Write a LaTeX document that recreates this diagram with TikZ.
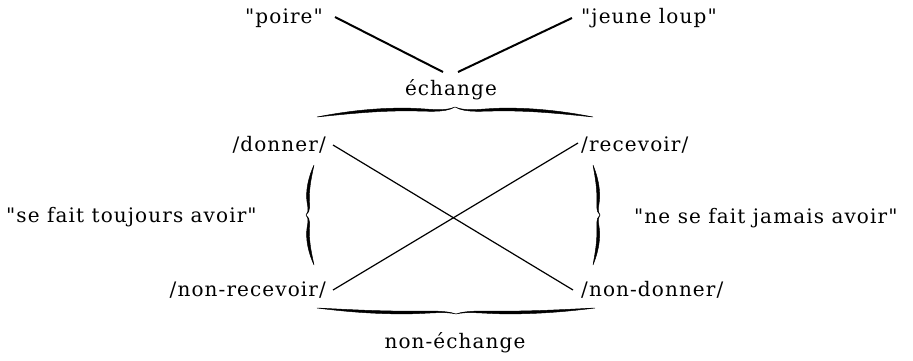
\documentclass[tikz,border=0pt]{standalone}
\usepackage{fontspec}
\setmainfont{DejaVu Serif}[Ligatures=TeXOff, LetterSpace=5.5]
\newcommand\halfbrace[2]{%
  \filldraw[line width=0.45pt]
    (0,0) .. controls (0.12*#1,0.55*#2+1.0) and (0.22*#1,0.75*#2+1.5) .. (0.32*#1,0.75*#2+1.4)
    .. controls (0.40*#1,0.75*#2+1.2) and (0.46*#1,0.45*#2+0.4) .. (0.5*#1,#2)
    .. controls (0.46*#1,0.40*#2-0.4) and (0.40*#1,0.75*#2-1.2) .. (0.32*#1,0.75*#2-1.4)
    .. controls (0.22*#1,0.75*#2-1.4) and (0.12*#1,0.45*#2-1.0) .. (0,0) -- cycle;}
\tikzset{
  pics/fbrace/.style n args={2}{code={%
    \halfbrace{#1}{#2}%
    \begin{scope}[shift={(#1,0)},xscale=-1]\halfbrace{#1}{#2}\end{scope}}},
  lbl/.style={inner sep=0pt, font=\fontsize{20}{24}\selectfont},
  thickline/.style={line width=2pt},
  crossline/.style={line width=1.2pt}
}
\begin{document}
\begin{tikzpicture}[x=1pt,y=1pt]
\useasboundingbox (0,0) rectangle (913,360);
% labels
\node[lbl] (poire) at (284,342) {"poire"};
\node[lbl,anchor=west] (loup) at (581,342) {"jeune loup"};
\node[lbl] (ech) at (451,270) {échange};
\node[lbl,anchor=east] (donner) at (326,215) {/donner/};
\node[lbl,anchor=west] (recevoir) at (581,215) {/recevoir/};
\node[lbl,anchor=east] (nonrec) at (326,70) {/non-recevoir/};
\node[lbl,anchor=west] (nondon) at (581,70) {/non-donner/};
\node[lbl] (nonech) at (455,17) {non-échange};
\node[lbl,anchor=west] (toujours) at (6,143) {"se fait toujours avoir"};
\node[lbl,anchor=west] (jamais) at (634,142) {"ne se fait jamais avoir"};
% connector ends
\coordinate (pa) at (335,343);
\coordinate (pb) at (443,288);
\coordinate (la) at (572,342);
\coordinate (lb) at (458,288);
\coordinate (da) at (333,215);
\coordinate (db) at (573,70);
\coordinate (ra) at (333,70);
\coordinate (rb) at (578,217);
\draw[thickline] (pa) -- (pb);
\draw[thickline] (la) -- (lb);
\draw[crossline] (da) -- (db);
\draw[crossline] (ra) -- (rb);
% braces
\pic at (317,243) {fbrace={276}{10}};
\pic[yscale=-1] at (317,52) {fbrace={278}{6}};
\pic[rotate=90] at (314,95) {fbrace={100}{8}};
\pic[rotate=-90] at (593,195) {fbrace={100}{7}};
\end{tikzpicture}
\end{document}
